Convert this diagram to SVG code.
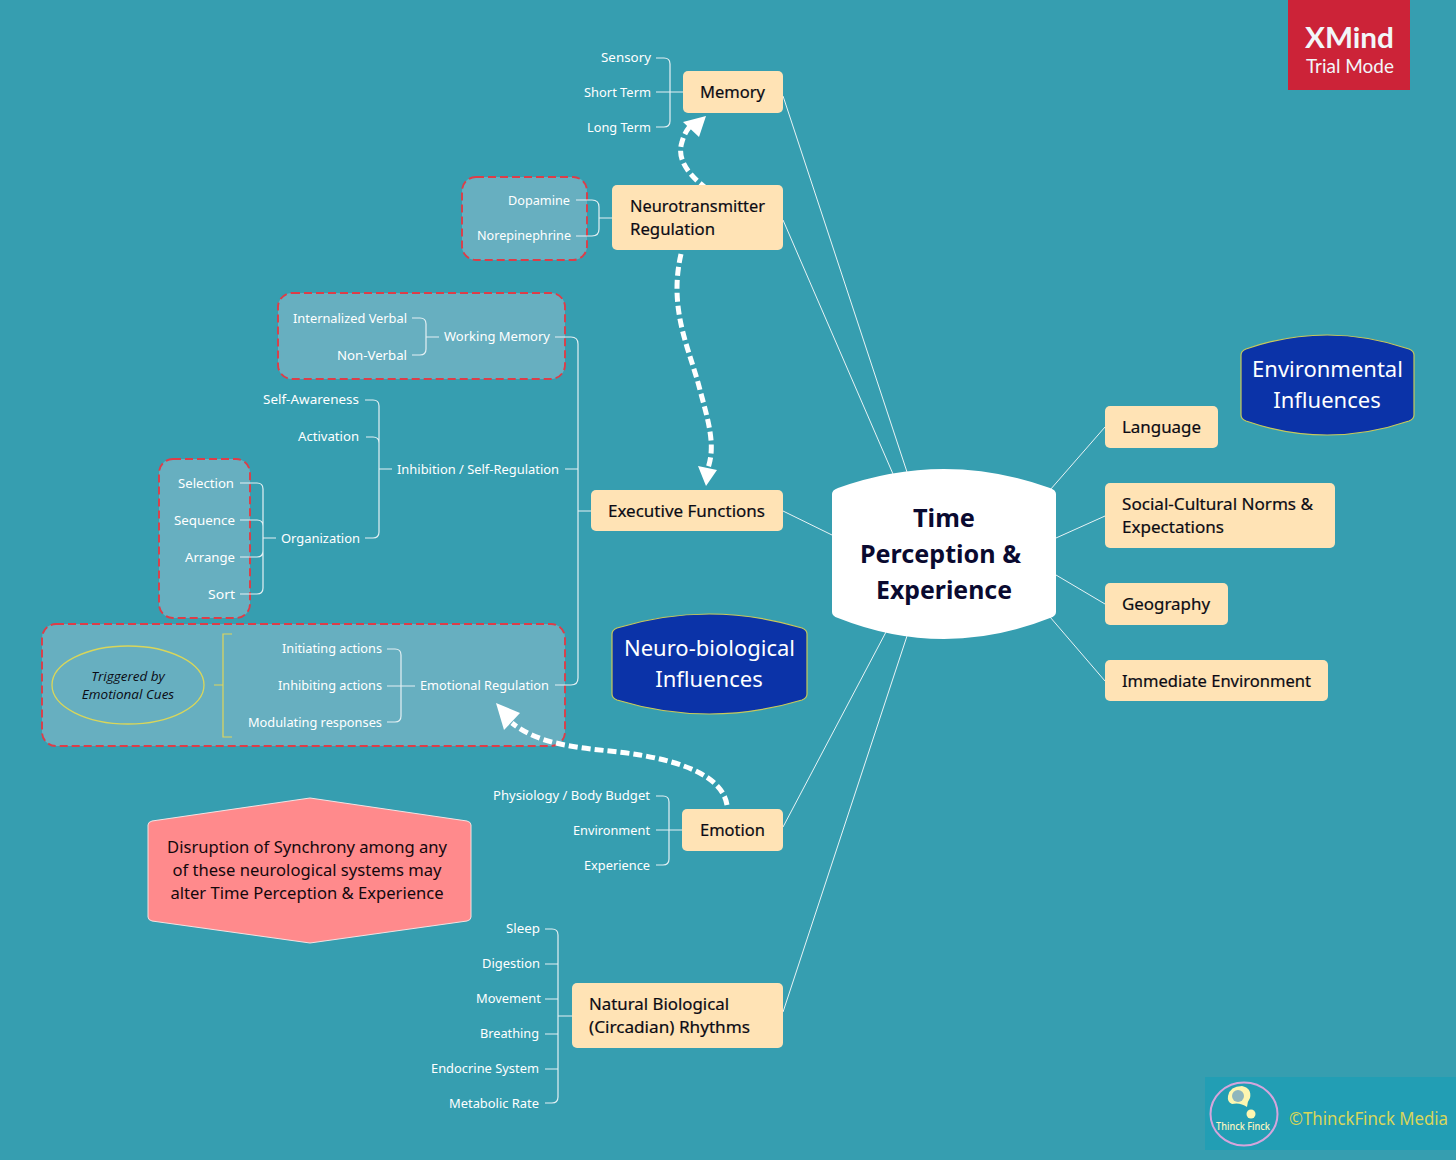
<svg xmlns="http://www.w3.org/2000/svg" width="1456" height="1160" viewBox="0 0 1456 1160">
<style>
text{font-family:"Noto Sans","Open Sans",sans-serif}
.n rect{fill:#ffe3b5}
.n text{font-size:16.6px;fill:#0b0b14;stroke:#0b0b14;stroke-width:.2}
.s{font-size:13.2px;fill:#fff;text-anchor:end}
.l{fill:none;stroke:#e4f0f3;stroke-width:1.2}
.c{fill:none;stroke:#e8f3f5;stroke-width:1}
.box{fill:#67afc0;stroke:#dd3d48;stroke-width:1.9;stroke-dasharray:8 4}
.blue{fill:#0b33a8;stroke:#c9c95a;stroke-width:1.2}
.bt{font-size:22px;fill:#fff;text-anchor:middle}
.arr{fill:none;stroke:#fff;stroke-width:5;stroke-dasharray:9 4}
.xm{font-family:Lato,"Noto Sans",sans-serif;fill:#f2f6f8;text-anchor:middle}
</style>
<rect width="1456" height="1160" fill="#369eb0"/>
<g id="boxes">
<rect class="box" x="462" y="177" width="125" height="83" rx="14"/>
<rect class="box" x="278" y="293" width="287" height="86" rx="14"/>
<rect class="box" x="159" y="459" width="91" height="159" rx="14"/>
<rect class="box" x="42" y="624" width="523" height="122" rx="14"/>
</g>
<g id="connectors">
<path class="c" d="M783 96L907 472M783 220L893 474M783 511L832 535M783 827L886 632M783 1012L907 636M1105 427L1050 490M1105 516L1056 538M1105 604L1056 575M1105 681L1050 617"/>
<path class="l" d="M656 58H664Q670 58 670 64V121Q670 127 664 127H656M656 92H683"/>
<path class="l" d="M576 200H592Q599 200 599 207V229Q599 236 592 236H576M599 218H612"/>
<path class="l" d="M412 318H420Q426 318 426 324V349Q426 355 420 355H412M426 337H439"/>
<path class="l" d="M555 337H571Q578 337 578 344V678Q578 685 571 685H555M565 469H578M578 511H591"/>
<path class="l" d="M365 400H373Q379 400 379 406V532Q379 538 373 538H365M366 437H373Q379 437 379 443M379 469H392"/>
<path class="l" d="M240 483H257Q263 483 263 489V588Q263 594 257 594H240M240 520H257Q263 520 263 526V551Q263 557 257 557H240M263 538H276"/>
<path class="l" d="M387 649H395Q401 649 401 655V716Q401 722 395 722H387M387 686H415"/>
<path d="M214 685H223M232 634H223V737H232" fill="none" stroke="#e0d65a" stroke-width="1.2"/>
<path class="l" d="M656 796H663Q669 796 669 802V859Q669 865 663 865H656M656 830H682"/>
<path class="l" d="M545 929H552Q558 929 558 935V1097Q558 1103 552 1103H545M545 964H558M545 999H558M545 1034H558M545 1069H558M558 1016H572"/>
</g>
<g id="arrows">
<path class="arr" d="M707 189C690 176 676 160 682 142C684 134 688 128 692 124"/>
<path d="M706 116L683 122L699 137Z" fill="#fff"/>
<path class="arr" d="M681 254C668 310 690 350 700 390C708 420 716 445 708 468"/>
<path d="M706 486L698 466L717 470Z" fill="#fff"/>
<path class="arr" d="M727 805C722 775 680 762 640 755C600 748 545 750 512 723"/>
<path d="M496 703L520 713L504 730Z" fill="#fff"/>
</g>
<g id="center"><path d="M832 494Q832 490 838 488Q944 450 1050 488Q1056 490 1056 494V612Q1056 616 1050 618Q944 660 838 618Q832 616 832 612Z" fill="#fff"/>
<g font-size="25.5" font-weight="700" fill="#0a0a30" text-anchor="middle"><text x="944" y="527" textLength="62" lengthAdjust="spacingAndGlyphs">Time</text><text x="940.500" y="563" textLength="161" lengthAdjust="spacingAndGlyphs">Perception &amp;</text><text x="944" y="599" textLength="136" lengthAdjust="spacingAndGlyphs">Experience</text></g></g>
<g class="n" id="memory"><rect x="683" y="71" width="100" height="42" rx="5"/><text x="700" y="98" textLength="65" lengthAdjust="spacingAndGlyphs">Memory</text></g>
<g class="n" id="neuro"><rect x="612" y="185" width="171" height="65" rx="5"/><text x="630" y="212" textLength="135" lengthAdjust="spacingAndGlyphs">Neurotransmitter</text><text x="630" y="235" textLength="85" lengthAdjust="spacingAndGlyphs">Regulation</text></g>
<g class="n" id="exec"><rect x="591" y="490" width="192" height="41" rx="5"/><text x="608" y="517" textLength="157" lengthAdjust="spacingAndGlyphs">Executive Functions</text></g>
<g class="n" id="emotion"><rect x="682" y="809" width="101" height="42" rx="5"/><text x="700" y="836" textLength="65" lengthAdjust="spacingAndGlyphs">Emotion</text></g>
<g class="n" id="natural"><rect x="572" y="983" width="211" height="65" rx="5"/><text x="589" y="1010" textLength="140" lengthAdjust="spacingAndGlyphs">Natural Biological</text><text x="589" y="1033" textLength="161" lengthAdjust="spacingAndGlyphs">(Circadian) Rhythms</text></g>
<g class="n" id="language"><rect x="1105" y="406" width="113" height="42" rx="5"/><text x="1122" y="433" textLength="79" lengthAdjust="spacingAndGlyphs">Language</text></g>
<g class="n" id="social"><rect x="1105" y="483" width="230" height="65" rx="5"/><text x="1122" y="510" textLength="191" lengthAdjust="spacingAndGlyphs">Social-Cultural Norms &amp;</text><text x="1122" y="533" textLength="102" lengthAdjust="spacingAndGlyphs">Expectations</text></g>
<g class="n" id="geography"><rect x="1105" y="583" width="123" height="42" rx="5"/><text x="1122" y="610" textLength="88" lengthAdjust="spacingAndGlyphs">Geography</text></g>
<g class="n" id="immediate"><rect x="1105" y="660" width="223" height="41" rx="5"/><text x="1122" y="687" textLength="189" lengthAdjust="spacingAndGlyphs">Immediate Environment</text></g>
<g id="labels">
<text class="s" x="651" y="62" textLength="50" lengthAdjust="spacingAndGlyphs">Sensory</text><text class="s" x="651" y="97" textLength="67" lengthAdjust="spacingAndGlyphs">Short Term</text><text class="s" x="651" y="132" textLength="64" lengthAdjust="spacingAndGlyphs">Long Term</text>
<text class="s" x="570" y="205" textLength="62" lengthAdjust="spacingAndGlyphs">Dopamine</text><text class="s" x="571" y="240" textLength="94" lengthAdjust="spacingAndGlyphs">Norepinephrine</text>
<text class="s" x="407" y="323" textLength="114" lengthAdjust="spacingAndGlyphs">Internalized Verbal</text><text class="s" x="407" y="360" textLength="70" lengthAdjust="spacingAndGlyphs">Non-Verbal</text><text class="s" x="550" y="341" textLength="106" lengthAdjust="spacingAndGlyphs">Working Memory</text>
<text class="s" x="359" y="404" textLength="96" lengthAdjust="spacingAndGlyphs">Self-Awareness</text><text class="s" x="359" y="441" textLength="61" lengthAdjust="spacingAndGlyphs">Activation</text><text class="s" x="559" y="474" textLength="162" lengthAdjust="spacingAndGlyphs">Inhibition / Self-Regulation</text><text class="s" x="360" y="543" textLength="79" lengthAdjust="spacingAndGlyphs">Organization</text>
<text class="s" x="234" y="488" textLength="56" lengthAdjust="spacingAndGlyphs">Selection</text><text class="s" x="235" y="525" textLength="61" lengthAdjust="spacingAndGlyphs">Sequence</text><text class="s" x="235" y="562" textLength="50" lengthAdjust="spacingAndGlyphs">Arrange</text><text class="s" x="235" y="599" textLength="27" lengthAdjust="spacingAndGlyphs">Sort</text>
<text class="s" x="382" y="653" textLength="100" lengthAdjust="spacingAndGlyphs">Initiating actions</text><text class="s" x="382" y="690" textLength="104" lengthAdjust="spacingAndGlyphs">Inhibiting actions</text><text class="s" x="382" y="727" textLength="134" lengthAdjust="spacingAndGlyphs">Modulating responses</text><text class="s" x="549" y="690" textLength="129" lengthAdjust="spacingAndGlyphs">Emotional Regulation</text>
<text class="s" x="650" y="800" textLength="157" lengthAdjust="spacingAndGlyphs">Physiology / Body Budget</text><text class="s" x="650" y="835" textLength="77" lengthAdjust="spacingAndGlyphs">Environment</text><text class="s" x="650" y="870" textLength="66" lengthAdjust="spacingAndGlyphs">Experience</text>
<text class="s" x="540" y="933" textLength="34" lengthAdjust="spacingAndGlyphs">Sleep</text><text class="s" x="540" y="968" textLength="58" lengthAdjust="spacingAndGlyphs">Digestion</text><text class="s" x="541" y="1003" textLength="65" lengthAdjust="spacingAndGlyphs">Movement</text><text class="s" x="539" y="1038" textLength="59" lengthAdjust="spacingAndGlyphs">Breathing</text><text class="s" x="539" y="1073" textLength="108" lengthAdjust="spacingAndGlyphs">Endocrine System</text><text class="s" x="539" y="1108" textLength="90" lengthAdjust="spacingAndGlyphs">Metabolic Rate</text>
</g>
<g id="trigger"><ellipse cx="128" cy="685" rx="76" ry="39" fill="none" stroke="#d9d65a" stroke-width="1.3"/>
<g font-style="italic" font-size="13.500" fill="#0b0b14" text-anchor="middle"><text x="128" y="681" style="font-family:'Open Sans'">Triggered by</text><text x="128" y="699" style="font-family:'Open Sans'">Emotional Cues</text></g></g>
<g id="neuro-influences"><path class="blue" d="M612 634Q612 630 617 628Q709 600 802 628Q807 630 807 634V694Q807 698 802 700Q709 728 617 700Q612 698 612 694Z"/><text class="bt" x="709.500" y="656">Neuro-biological</text><text class="bt" x="709" y="687">Influences</text></g>
<g id="env-influences"><path class="blue" d="M1241 355Q1241 351 1246 349Q1327 321 1409 349Q1414 351 1414 355V415Q1414 419 1409 421Q1327 449 1246 421Q1241 419 1241 415Z"/><text class="bt" x="1327.500" y="377">Environmental</text><text class="bt" x="1327" y="408">Influences</text></g>
<g id="disruption"><path d="M148 825Q148 822 152 821L310 798L467 821Q471 822 471 825V917Q471 920 467 921L310 943L152 921Q148 920 148 917Z" fill="#ff8a8c" stroke="#f3e3e3" stroke-width="1"/>
<g font-size="16.600" fill="#14080c" text-anchor="middle"><text x="307" y="853">Disruption of Synchrony among any</text><text x="307" y="876">of these neurological systems may</text><text x="307" y="899">alter Time Perception &amp; Experience</text></g></g>
<g id="xmind"><rect x="1288" y="0" width="122" height="90" fill="#cc2338"/><text class="xm" x="1349.500" y="48" font-size="28" font-weight="700" textLength="89" lengthAdjust="spacingAndGlyphs">XMind</text><text class="xm" x="1350" y="72.500" font-size="18.500" textLength="88" lengthAdjust="spacingAndGlyphs">Trial Mode</text></g>
<g id="logo"><rect x="1205" y="1077" width="251" height="73" fill="#229eb4"/><ellipse cx="1244" cy="1114" rx="33.500" ry="31.500" fill="none" stroke="#d5a5dc" stroke-width="2"/>
<path d="M1228 1096Q1230 1086 1242 1086Q1252 1088 1250 1098Q1247 1102 1247 1107Q1240 1102 1232 1104Q1227 1102 1228 1096Z" fill="#fdf6b0"/><circle cx="1238" cy="1096" r="6" fill="#8fb6bd"/><circle cx="1251" cy="1114" r="4.500" fill="#fdf6b0"/>
<text x="1243" y="1130" font-size="11.500" font-weight="500" fill="#fdf6c0" text-anchor="middle" textLength="54" lengthAdjust="spacingAndGlyphs">Thinck Finck</text>
<text x="1289" y="1125" font-size="17.500" fill="#d8d65a" textLength="159" lengthAdjust="spacingAndGlyphs">©ThinckFinck Media</text></g>
</svg>
